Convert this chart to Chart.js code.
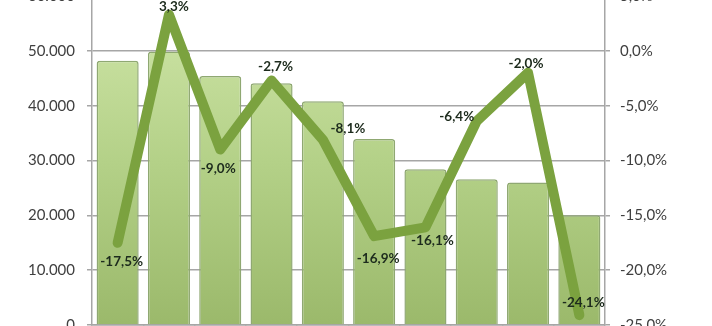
<!DOCTYPE html>
<html>
<head>
<meta charset="utf-8">
<script src="https://cdn.jsdelivr.net/npm/chart.js@4"></script>
<style>
  html, body { margin: 0; padding: 0; background: #fff; overflow: hidden; }
  #wrap { position: absolute; left: 0; top: -25px; width: 712px; height: 371px; }
</style>
</head>
<body>
<div id="wrap"><canvas id="chart" width="712" height="371"></canvas></div>
<script>
const categories = ['1', '2', '3', '4', '5', '6', '7', '8', '9', '10'];
const volumes    = [48200, 49900, 45400, 44100, 40800, 33900, 28400, 26600, 26000, 20000];
const changes    = [-17.5, 3.3, -9.0, -2.7, -8.1, -16.9, -16.1, -6.4, -2.0, -24.1];
const leftTicks  = [0, 10000, 20000, 30000, 40000, 50000, 60000];
const rightTicks = [-25, -20, -15, -10, -5, 0, 5];

// label offsets from each line point (dx, dy)
const labelShift = [[4, 19], [5, -8], [-2, 19], [4, -14], [25, -11], [4, 22], [7, 13], [-20, -4], [-2, -9], [4, -12]];

const fmtThousands = v => v === 0 ? '0' : (v / 1000).toFixed(3);
const fmtPct = v => v.toFixed(1).replace('.', ',') + '%';

const lineLabels = {
  id: 'lineLabels',
  afterDatasetsDraw(chart) {
    const ctx = chart.ctx;
    const meta = chart.getDatasetMeta(1);
    ctx.save();
    ctx.font = 'bold 13.5px Lato';
    ctx.fillStyle = '#1d2b1d';
    ctx.textAlign = 'center';
    ctx.textBaseline = 'middle';
    meta.data.forEach((pt, i) => {
      const [dx, dy] = labelShift[i];
      ctx.fillText(fmtPct(changes[i]), pt.x + dx, pt.y + dy);
    });
    ctx.restore();
  }
};

const ctx = document.getElementById('chart').getContext('2d');
new Chart(ctx, {
  data: {
    labels: categories,
    datasets: [
      {
        type: 'bar',
        data: volumes,
        yAxisID: 'y',
        order: 2,
        backgroundColor: c => {
          const area = c.chart.chartArea;
          if (!area) return '#b5d289';
          const g = c.chart.ctx.createLinearGradient(0, area.top, 0, area.bottom);
          g.addColorStop(0, '#d0e6a9');
          g.addColorStop(0.5, '#b4d188');
          g.addColorStop(1, '#9bb96b');
          return g;
        },
        borderColor: '#8fa872',
        borderWidth: 1.5,
        borderRadius: 3,
        borderSkipped: 'bottom',
        barPercentage: 0.82,
        categoryPercentage: 1
      },
      {
        type: 'line',
        data: changes,
        yAxisID: 'y1',
        order: 1,
        borderColor: '#7ba23f',
        borderWidth: 10,
        borderCapStyle: 'round',
        borderJoinStyle: 'round',
        pointRadius: 0,
        tension: 0
      }
    ]
  },
  options: {
    responsive: false,
    animation: false,
    layout: { padding: { top: 10, bottom: 6 } },
    plugins: { legend: { display: false }, tooltip: { enabled: false } },
    scales: {
      x: {
        grid: { display: true, drawOnChartArea: false, color: '#a6a6a6', lineWidth: 1.5, tickLength: 5, offset: true },
        border: { color: '#a6a6a6', width: 1.5 },
        ticks: { display: false }
      },
      y: {
        position: 'left',
        min: 0, max: 60000,
        afterBuildTicks: s => { s.ticks = leftTicks.map(v => ({ value: v })); },
        afterFit: s => { s.width = 92; },
        grid: { color: '#a6a6a6', lineWidth: 1.5, tickLength: 5 },
        border: { color: '#a6a6a6', width: 1.5 },
        ticks: {
          padding: 12,
          color: '#3f3f3f',
          font: { family: 'Lato', size: 15 },
          callback: v => fmtThousands(v)
        }
      },
      y1: {
        position: 'right',
        min: -25, max: 5,
        afterBuildTicks: s => { s.ticks = rightTicks.map(v => ({ value: v })); },
        afterFit: s => { s.width = 107; },
        grid: { drawOnChartArea: false, color: '#a6a6a6', lineWidth: 1.5, tickLength: 5 },
        border: { color: '#a6a6a6', width: 1.5 },
        ticks: {
          padding: 10,
          color: '#3f3f3f',
          font: { family: 'Lato', size: 15 },
          callback: v => fmtPct(v)
        }
      }
    }
  },
  plugins: [lineLabels]
});
</script>
</body>
</html>
